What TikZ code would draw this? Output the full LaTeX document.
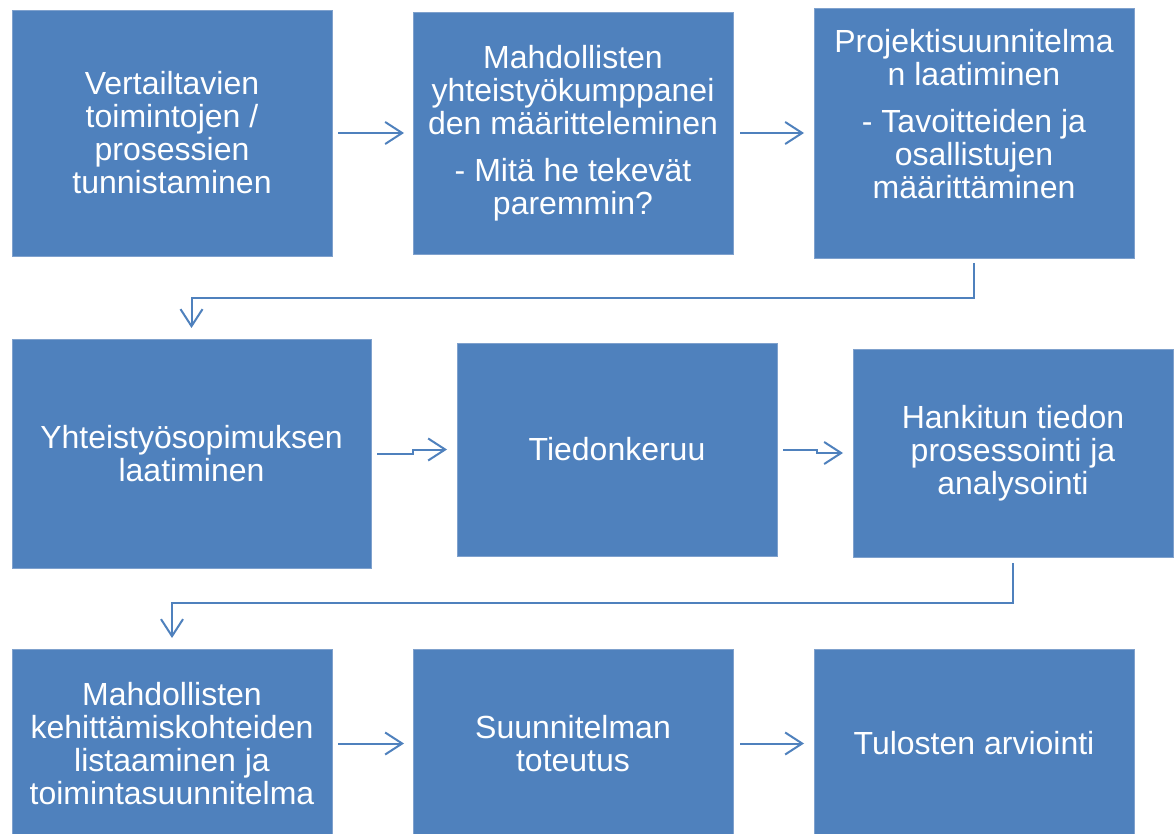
\documentclass[tikz,border=0pt]{standalone}
\usepackage{fontspec}
\setmainfont{Liberation Sans}
\usetikzlibrary{arrows.meta}
\definecolor{boxblue}{HTML}{4F81BD}
\definecolor{boxedge}{HTML}{7FA1CD}

\begin{document}
\begin{tikzpicture}[x=1pt,y=-1pt,
  box/.style={rectangle, fill=boxblue, draw=boxedge, line width=0.8pt,
    inner sep=0pt, outer sep=0pt, text=white, align=center,
    font=\fontsize{32}{33}\selectfont},
  txt/.style={text=white, align=center, inner sep=0pt,
    font=\fontsize{32}{33}\selectfont},
  arr/.style={draw=boxblue, line width=2pt,
    -{Straight Barb[length=17pt,width=22pt]}}]
\useasboundingbox (0,0) rectangle (1176,834);
\fill[white] (0,0) rectangle (1176,834);

% rows where the turning connectors run
\coordinate (r1) at (0,298);
\coordinate (r2) at (0,603);

% first row
\node[box, minimum width=320pt, minimum height=246pt] (A) at (172,133)
  {Vertailtavien\\toimintojen /\\prosessien\\tunnistaminen};
\node[box, minimum width=320pt, minimum height=242pt] (B) at (573,133)
  {Mahdollisten\\yhteistyökumppanei\\den määritteleminen\\[14pt]- Mitä he tekevät\\paremmin?};
\node[box, minimum width=320pt, minimum height=250pt] (C) at (974,133) {};
\node[txt] (Ct) at (974,114)
  {Projektisuunnitelma\\n laatiminen\\[14pt]- Tavoitteiden ja\\osallistujen\\määrittäminen};

% second row
\node[box, minimum width=359pt, minimum height=229pt] (D) at (191.5,453.5)
  {Yhteistyösopimuksen\\laatiminen};
\node[box, minimum width=320pt, minimum height=213pt] (E) at (617,449.5)
  {Tiedonkeruu};
\node[box, minimum width=320pt, minimum height=208pt] (F) at (1013,453)
  {Hankitun tiedon\\prosessointi ja\\analysointi};

% third row
\node[box, minimum width=320pt, minimum height=189pt] (G) at (172,743.5)
  {Mahdollisten\\kehittämiskohteiden\\listaaminen ja\\toimintasuunnitelma};
\node[box, minimum width=320pt, minimum height=189pt] (H) at (573,743.5)
  {Suunnitelman\\toteutus};
\node[box, minimum width=320pt, minimum height=189pt] (I) at (974,743.5)
  {Tulosten arviointi};

% connectors
\draw[arr] ([xshift=6pt]A.east) -- ([xshift=-9pt]B.west);
\draw[arr] ([xshift=7pt]B.east) -- ([xshift=-10pt]C.west);
\draw[arr] ([yshift=-5pt]C.south) -- (C.south |- r1) -| ([yshift=11pt]D.north);
\draw[arr] ([xshift=6pt]D.east) -- ++(36,0) |- ([xshift=-10pt]E.west);
\draw[arr] ([xshift=6pt]E.east) -- ++(34,0) |- ([xshift=-10pt]F.west);
\draw[arr] ([yshift=-6pt]F.south) -- (F.south |- r2) -| ([yshift=11pt]G.north);
\draw[arr] ([xshift=6pt]G.east) -- ([xshift=-9pt]H.west);
\draw[arr] ([xshift=7pt]H.east) -- ([xshift=-10pt]I.west);
\end{tikzpicture}
\end{document}
